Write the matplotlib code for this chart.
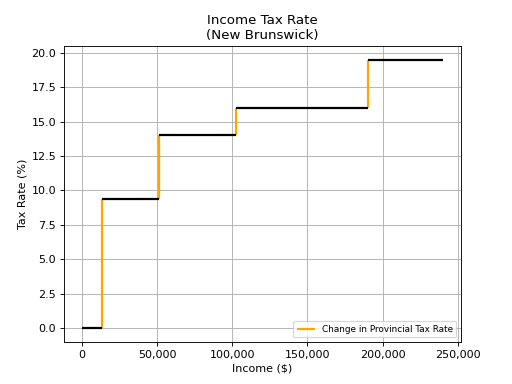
import matplotlib
matplotlib.use("Agg")
import matplotlib.pyplot as plt
from matplotlib.ticker import FuncFormatter

bracket_starts = [0, 13044, 51306, 102614, 190060]
bracket_ends = [13044, 51306, 102614, 190060, 240000]
rates = [0.0, 9.4, 14.0, 16.0, 19.5]

fig, ax = plt.subplots(figsize=(6.4, 4.8), dpi=80)
for i in range(1, len(rates)):
    ax.vlines(bracket_starts[i], rates[i - 1], rates[i], color="orange", lw=2,
              label="Change in Provincial Tax Rate" if i == 1 else None, zorder=2)
ax.hlines(rates, bracket_starts, bracket_ends, color="black", lw=2, zorder=3)

ax.set_title("Income Tax Rate\n(New Brunswick)")
ax.set_xlabel("Income ($)")
ax.set_ylabel("Tax Rate (%)")
ax.xaxis.set_major_formatter(FuncFormatter(lambda v, p: f"{int(v):,}"))
ax.grid(True)
ax.set_axisbelow(True)
ax.legend(loc="lower right", fontsize=8)
fig.savefig("out.png", dpi=80)
